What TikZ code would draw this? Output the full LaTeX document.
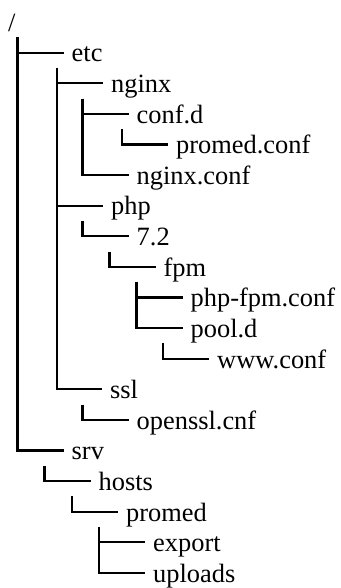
\documentclass[tikz,border=0pt]{standalone}
\usepackage{fontspec}
\setmainfont{Liberation Serif}
\usepackage{tikz}
\tikzset{dir label/.style={anchor=west,inner xsep=8pt,inner ysep=0pt,text height=24pt,text depth=5.4pt,font=\fontsize{26.4pt}{30pt}\selectfont}}
\tikzset{dir line/.style={line width=2.1pt}}

\begin{document}
\begin{tikzpicture}[x=1pt,y=-30.6pt]

            \useasboundingbox (0,-0.7222) rectangle (340,18.4935);

            % spine tops, half a row above the first child
            \coordinate (rootTop) at (17.5,0.5);
            \coordinate (etcTop) at (57,1.5);
            \coordinate (nginxTop) at (82.5,2.5);
            \coordinate (confdTop) at (122,3.5);
            \coordinate (phpTop) at (82.5,6.5);
            \coordinate (verTop) at (109.5,7.5);
            \coordinate (fpmTop) at (136.5,8.5);
            \coordinate (pooldTop) at (163,10.5);
            \coordinate (sslTop) at (82.5,12.5);
            \coordinate (srvTop) at (44.5,14.5);
            \coordinate (hostsTop) at (72,15.5);
            \coordinate (promedTop) at (99,16.5);

            \node[dir label] (root) at (0,0) {/};
            \node[dir label] (etc) at (63.5,1) {etc};
            \node[dir label] (nginx) at (103,2) {nginx};
            \node[dir label] (confd) at (128.5,3) {conf.d};
            \node[dir label] (promedconf) at (168,4) {promed.conf};
            \node[dir label] (nginxconf) at (128.5,5) {nginx.conf};
            \node[dir label] (php) at (103,6) {php};
            \node[dir label] (ver) at (128.5,7) {7.2};
            \node[dir label] (fpm) at (155.5,8) {fpm};
            \node[dir label] (phpfpmconf) at (182.5,9) {php-fpm.conf};
            \node[dir label] (poold) at (182.5,10) {pool.d};
            \node[dir label] (wwwconf) at (209,11) {www.conf};
            \node[dir label] (ssl) at (102,12) {ssl};
            \node[dir label] (opensslcnf) at (128.5,13) {openssl.cnf};
            \node[dir label] (srv) at (63.5,14) {srv};
            \node[dir label] (hosts) at (90.5,15) {hosts};
            \node[dir label] (promed) at (118,16) {promed};
            \node[dir label] (export) at (145,17) {export};
            \node[dir label] (uploads) at (145,18) {uploads};

            \draw[dir line] (rootTop) |- (etc.west);
            \draw[dir line] (rootTop) |- (srv.west);
            \draw[dir line] (etcTop) |- (nginx.west);
            \draw[dir line] (etcTop) |- (php.west);
            \draw[dir line] (etcTop) |- (ssl.west);
            \draw[dir line] (nginxTop) |- (confd.west);
            \draw[dir line] (nginxTop) |- (nginxconf.west);
            \draw[dir line] (confdTop) |- (promedconf.west);
            \draw[dir line] (phpTop) |- (ver.west);
            \draw[dir line] (verTop) |- (fpm.west);
            \draw[dir line] (fpmTop) |- (phpfpmconf.west);
            \draw[dir line] (fpmTop) |- (poold.west);
            \draw[dir line] (pooldTop) |- (wwwconf.west);
            \draw[dir line] (sslTop) |- (opensslcnf.west);
            \draw[dir line] (srvTop) |- (hosts.west);
            \draw[dir line] (hostsTop) |- (promed.west);
            \draw[dir line] (promedTop) |- (export.west);
            \draw[dir line] (promedTop) |- (uploads.west);

\end{tikzpicture}
\end{document}
